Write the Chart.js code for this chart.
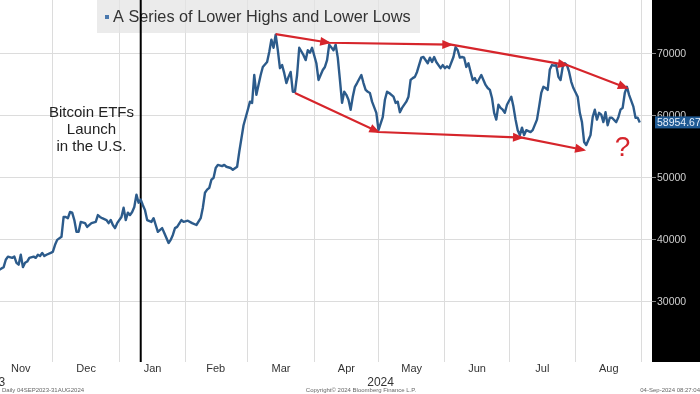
<!DOCTYPE html>
<html>
<head>
<meta charset="utf-8">
<script src="https://cdn.jsdelivr.net/npm/chart.js@4/dist/chart.umd.min.js"></script>
<style>
  html, body { margin: 0; padding: 0; background: #fff; }
  canvas { display: block; }
</style>
</head>
<body>
<canvas id="c" width="700" height="394"></canvas>
<script>
// day index: 0 = 1 Nov 2023
const days = [5,7,8,9,11,12,13,14,15,16,17,18,19,21,22,23,24,25,26,27,29,30,31,32,34,35,36,37,38,39,40,41,42,43,45,46,48,50,51,52,53,55,56,57,58,59,60,
  62,63,64,65,66,67,68,69,70,71,72,73,74,76,77,78,79,81,82,84,85,86,87,88,90,91,93,95,97,99,100,101,102,103,104,105,106,107,109,110,111,113,114,116,117,119,
  121,122,123,124,125,127,128,130,131,132,133,134,135,136,137,138,139,140,141,142,143,144,145,147,148,149,150,151,153,154,156,157,158,159,161,162,163,164,165,166,167,168,169,170,171,172,174,175,176,177,178,179,181,
  182,184,185,186,187,189,190,191,192,193,195,196,197,198,199,200,202,203,205,206,207,208,209,211,212,
  213,214,215,217,218,219,220,221,222,223,224,225,226,227,228,230,231,232,233,234,235,236,237,238,239,240,241,242,
  244,245,246,247,248,249,250,251,253,254,256,257,258,259,260,261,262,263,264,265,266,267,268,269,270,271,272,273,
  275,276,277,278,279,280,281,282,283,284,285,286,287,288,289,290,291,293,294,295,296,297,298,299,301,302,303,304];
const prices = [35200,35600,36800,37300,37100,37300,36300,36000,37600,35600,36300,36500,37100,37300,37100,37600,37400,37900,37400,37600,37900,38100,39200,40000,40500,43700,43700,43500,44500,44400,43200,41300,41300,42900,42700,42100,42700,42900,44000,43700,43500,43200,42700,43200,42400,41900,42700,
  43700,45200,43200,44400,44000,44500,45300,47300,46000,46500,45600,44800,43200,42900,43500,42400,41300,41900,41100,39500,40000,40800,41900,42100,43200,42900,43100,42700,42400,43500,45200,47600,48100,48400,49700,50000,51600,52100,51900,52100,51800,51600,51300,51800,54200,58500,
  61000,62300,62100,66600,63400,66600,67900,68700,70300,72300,71000,73100,70600,67700,68200,66900,65300,66300,67100,63900,63900,66600,71000,69800,69000,70600,70200,71000,68500,65800,67400,67900,69000,71500,70600,71500,69400,65800,62100,63900,63400,62600,61000,63100,64700,65300,66600,65300,64200,63900,63700,62300,60500,
  57700,59800,62600,63900,63700,63100,62100,62300,60600,61300,62300,63100,65800,66100,66300,67100,69400,69500,68500,69400,68700,69500,68700,67700,68200,
  67700,68000,67700,69500,71100,70600,69400,69500,69400,67900,68500,67100,65800,66100,65300,66600,65800,65000,64500,64200,62900,60500,59400,61800,61300,61000,60500,61800,
  63100,61500,59400,57700,56900,58100,56900,57700,57400,57700,59400,61500,63700,64700,64500,64200,67500,68200,68100,68200,66300,65800,67900,68500,68200,67100,65500,64500,
  63100,60500,59000,55800,55300,56100,56900,59800,61000,59400,60500,60200,59000,60600,58500,59700,59700,59000,59800,61000,61300,63700,64700,63400,61500,59700,59700,58954.67];

const highDays = [134, 159, 216, 270, 298];
const highVals = [73200, 71800, 71500, 68200, 64500];
const lowDays = [143, 182, 249, 278];
const lowVals = [63700, 57400, 56500, 54500];

const monthStarts = [30, 61, 92, 121, 152, 182, 213, 243, 274, 305];
const monthMids = [15, 45.5, 76.5, 106, 136.5, 167, 197.5, 228, 258.5, 289.5];
const monthNames = ['Nov', 'Dec', 'Jan', 'Feb', 'Mar', 'Apr', 'May', 'Jun', 'Jul', 'Aug'];
const yearMids = [1.5, 183];
const yearNames = ['2023', '2024'];
const priceTicks = [30000, 40000, 50000, 60000, 70000];

const etfDay = 71;
const etfLabel = ['Bitcoin ETFs', 'Launch', 'in the U.S.'];
const etfLabelAt = [48, 60500];
const questionAt = [296, 54800];
const seriesName = 'A Series of Lower Highs and Lower Lows';

const RED = '#d6252b';
const BLUE = '#2c5b8b';

Chart.defaults.font.family = "'Liberation Sans', Arial, sans-serif";

function pts(xs, ys) { return xs.map((x, i) => ({ x: x, y: ys[i] })); }

function zeroPad(scale) {
  scale.paddingLeft = 0; scale.paddingRight = 0;
  scale.paddingTop = 0; scale.paddingBottom = 0;
}

const overlay = {
  id: 'overlay',
  beforeDraw(chart) {
    const { ctx, chartArea } = chart;
    const ys = chart.scales.y;
    ctx.save();
    ctx.fillStyle = '#fff';
    ctx.fillRect(0, 0, chart.width, chart.height);
    ctx.fillStyle = '#000';
    ctx.fillRect(ys.left, 0, chart.width - ys.left, chartArea.bottom);
    ctx.restore();
  },
  beforeDatasetsDraw(chart) {
    const { ctx, chartArea } = chart;
    const xs = chart.scales.x;
    ctx.save();
    // legend box
    ctx.fillStyle = 'rgba(228,228,228,0.75)';
    ctx.fillRect(97, chartArea.top, 323, 33);
    ctx.fillStyle = '#4a78ad';
    ctx.fillRect(105, 15, 4, 4);
    ctx.fillStyle = '#333';
    ctx.font = "16.3px 'Liberation Sans', Arial, sans-serif";
    ctx.textBaseline = 'middle';
    ctx.textAlign = 'left';
    ctx.fillText(seriesName, 113, 18);
    // ETF launch line
    const ex = xs.getPixelForValue(etfDay);
    ctx.strokeStyle = '#000';
    ctx.lineWidth = 2;
    ctx.beginPath();
    ctx.moveTo(ex, chartArea.top);
    ctx.lineTo(ex, chartArea.bottom);
    ctx.stroke();
    ctx.restore();
  },
  afterDatasetsDraw(chart) {
    const { ctx } = chart;
    const xs = chart.scales.x, ys = chart.scales.y;
    ctx.save();
    // arrow heads
    chart.data.datasets.forEach((ds, di) => {
      if (!ds.arrows) return;
      const p = chart.getDatasetMeta(di).data;
      ctx.fillStyle = ds.borderColor;
      for (let i = 1; i < p.length; i++) {
        const a = Math.atan2(p[i].y - p[i - 1].y, p[i].x - p[i - 1].x);
        ctx.save();
        ctx.translate(p[i].x, p[i].y);
        ctx.rotate(a);
        ctx.beginPath();
        ctx.moveTo(2, 0);
        ctx.lineTo(-9, -4.5);
        ctx.lineTo(-9, 4.5);
        ctx.closePath();
        ctx.fill();
        ctx.restore();
      }
    });
    // ETF text
    ctx.fillStyle = '#222';
    ctx.font = "15px 'Liberation Sans', Arial, sans-serif";
    ctx.textAlign = 'center';
    ctx.textBaseline = 'middle';
    const tx = xs.getPixelForValue(etfLabelAt[0]);
    const ty = ys.getPixelForValue(etfLabelAt[1]);
    etfLabel.forEach((s, i) => ctx.fillText(s, tx, ty + i * 17));
    // question mark
    ctx.fillStyle = RED;
    ctx.font = "28px 'Liberation Sans', Arial, sans-serif";
    ctx.fillText('?', xs.getPixelForValue(questionAt[0]), ys.getPixelForValue(questionAt[1]));
    // last value box
    const last = prices[prices.length - 1];
    const ly = ys.getPixelForValue(last);
    ctx.fillStyle = '#1f5a94';
    ctx.fillRect(ys.left + 3, ly - 6, chart.width - ys.left - 3, 12);
    ctx.fillStyle = '#e8f0fb';
    ctx.font = "10.5px 'Liberation Sans', Arial, sans-serif";
    ctx.textAlign = 'left';
    ctx.fillText(last.toFixed(2), ys.left + 5, ly + 0.5);
    // footer
    ctx.fillStyle = '#666';
    ctx.font = "6px 'Liberation Sans', Arial, sans-serif";
    ctx.textAlign = 'left';
    ctx.fillText('l Daily 04SEP2023-31AUG2024', -1, 390);
    ctx.textAlign = 'center';
    ctx.fillText('Copyright\u00a9 2024 Bloomberg Finance L.P.', 361, 390);
    ctx.textAlign = 'right';
    ctx.fillText('04-Sep-2024 08:27:04', 700, 390);
    ctx.restore();
  }
};

new Chart(document.getElementById('c'), {
  type: 'line',
  data: {
    datasets: [
      { data: pts(highDays, highVals), borderColor: RED, borderWidth: 2.2, pointRadius: 0, arrows: true, order: 0 },
      { data: pts(lowDays, lowVals), borderColor: RED, borderWidth: 2.2, pointRadius: 0, arrows: true, order: 0 },
      { data: pts(days, prices), borderColor: BLUE, borderWidth: 2.4, pointRadius: 0, tension: 0, borderJoinStyle: 'round', order: 1 }
    ]
  },
  options: {
    responsive: false,
    animation: false,
    events: [],
    layout: { padding: { left: 0, right: 0, top: 0, bottom: 6 } },
    plugins: { legend: { display: false }, tooltip: { enabled: false } },
    scales: {
      x: {
        type: 'linear', position: 'bottom', min: 5.3, max: 309.7, weight: 0,
        grid: { color: '#dcdcdc', lineWidth: 1, drawTicks: false },
        border: { display: false },
        ticks: { display: false },
        afterBuildTicks: s => { s.ticks = monthStarts.map(v => ({ value: v })); },
        afterFit: s => { s.height = 0; zeroPad(s); }
      },
      xm: {
        type: 'linear', position: 'bottom', min: 5.3, max: 309.7, weight: 1,
        grid: { display: false, drawTicks: false },
        border: { display: false },
        ticks: { autoSkip: false, maxRotation: 0, padding: 0, color: '#333', font: { size: 11 },
          callback: (v, i) => monthNames[i] },
        afterBuildTicks: s => { s.ticks = monthMids.map(v => ({ value: v })); },
        afterFit: s => { s.height = 13; zeroPad(s); }
      },
      xy: {
        type: 'linear', position: 'bottom', min: 5.3, max: 309.7, weight: 2,
        grid: { display: false, drawTicks: false },
        border: { display: false },
        ticks: { autoSkip: false, maxRotation: 0, padding: 0, color: '#333', font: { size: 12 },
          callback: (v, i) => yearNames[i] },
        afterBuildTicks: s => { s.ticks = yearMids.map(v => ({ value: v })); },
        afterFit: s => { s.height = 13; zeroPad(s); }
      },
      y: {
        type: 'linear', position: 'right', min: 20300, max: 78700,
        grid: { color: '#dcdcdc', lineWidth: 1, tickColor: '#888', tickLength: 4 },
        border: { display: false },
        ticks: { padding: 1, color: '#cfcfcf', font: { size: 10.5 }, callback: v => String(v) },
        afterBuildTicks: s => { s.ticks = priceTicks.map(v => ({ value: v })); },
        afterFit: s => { s.width = 48; zeroPad(s); }
      }
    }
  },
  plugins: [overlay]
});
</script>
</body>
</html>
